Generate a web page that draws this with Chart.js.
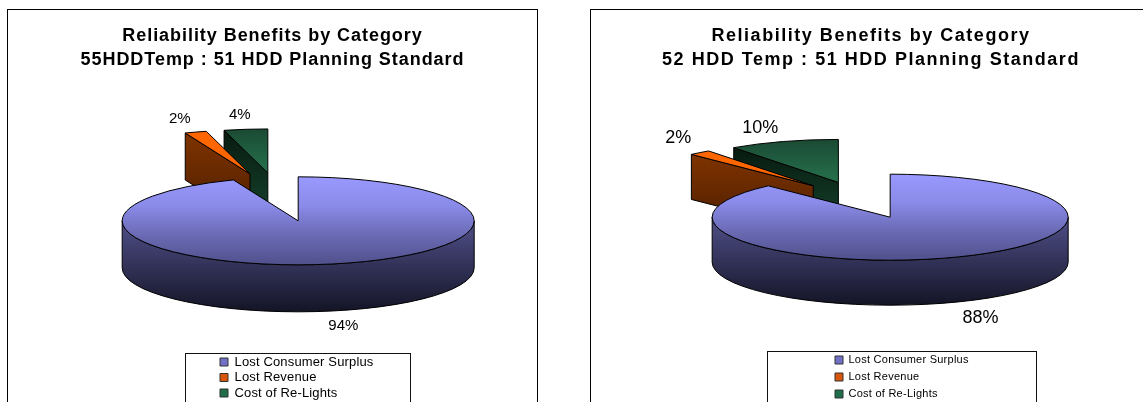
<!DOCTYPE html>
<html>
<head>
<meta charset="utf-8">
<script src="https://cdn.jsdelivr.net/npm/chart.js@4/dist/chart.umd.js"></script>
<style>
  html, body { margin: 0; padding: 0; background: #fff; overflow: hidden; }
  body { width: 1143px; height: 402px; position: relative; }
  .card { position: absolute; top: 9px; background: #fff; border: 1px solid #000; border-bottom: 0; }
  #card1 { left: 7px; width: 529px; height: 420px; }
  #card2 { left: 590px; width: 560px; height: 420px; }
  canvas { display: block; }
</style>
</head>
<body>
<div class="card" id="card1"><canvas id="chart1"></canvas></div>
<div class="card" id="card2"><canvas id="chart2"></canvas></div>
<script>
// data
const categories = ['Lost Consumer Surplus', 'Lost Revenue', 'Cost of Re-Lights'];
const title1 = ['Reliability Benefits by Category', '55HDDTemp : 51 HDD Planning Standard'];
const title2 = ['Reliability Benefits by Category', '52 HDD Temp : 51 HDD Planning Standard'];
const share1 = [94, 2, 4];
const share2 = [88, 2, 10];

// top and side gradients for each slice, light to dark
const topShades = [['#9999ff', '#8a8ae8', '#6a6ab4', '#50508c'], ['#ff6600', '#ff6600'], ['#1a4a33', '#339966']];
const sideShades = [['#50508a', '#141426'], ['#7f3300', '#4c1e00'], ['#1f4f37', '#123524']];
const faceShades = [['#50508a', '#141426'], ['#7f3300', '#4c1e00'], ['#071a10', '#17442d']];

function vertical(ctx, y0, y1, stops) {
  const g = ctx.createLinearGradient(0, y0, 0, y1);
  stops.forEach((c, i) => g.addColorStop(i / (stops.length - 1), c));
  return g;
}

// title and legend share a canvas but not the same letter spacing
function spaced(box, ctx, px) {
  const draw = box.draw;
  box.draw = function (area) {
    ctx.letterSpacing = px + 'px';
    draw.call(box, area);
    ctx.letterSpacing = '0px';
  };
}

// Chart.js has no 3D pie, so the arcs it computes get squashed and extruded here
const pie3d = {
  id: 'pie3d',
  afterInit(chart, args, opts) {
    spaced(chart.titleBlock, chart.ctx, opts.titleSpacing);
    spaced(chart.legend, chart.ctx, opts.legendSpacing);
  },
  afterLayout(chart, args, opts) {
    // title stays centred on the card, legend goes where the box is
    chart.titleBlock.left = 0;
    chart.titleBlock.right = chart.width;
    const lg = chart.legend;
    const pad = lg.options.labels.padding;
    lg.left = opts.legendX - pad;
    lg.right = lg.left + opts.box.w;
    lg.top = opts.legendY - pad;
    lg.bottom = lg.top + 200;
  },
  beforeDatasetsDraw(chart, args, opts) {
    const ctx = chart.ctx;
    const arcs = chart.getDatasetMeta(0).data;
    const values = chart.data.datasets[0].data;
    const k = opts.squash, depth = opts.depth;
    const points = arcs.map(a => {
      const mid = (a.startAngle + a.endAngle) / 2;
      const off = a.options.offset;
      return { x: a.x + Math.cos(mid) * off, y: a.y + Math.sin(mid) * off * k, mid };
    });
    ctx.save();
    ctx.lineWidth = 1;
    ctx.strokeStyle = '#000';
    ctx.lineJoin = 'round';
    // back slices first, the big one ends up in front
    for (let i = arcs.length - 1; i >= 0; i--) {
      const a = arcs[i], p = points[i];
      const r = a.outerRadius, ry = r * k;
      const a0 = a.startAngle, a1 = a.endAngle;

      // cut faces that look towards the viewer
      [[a0, Math.cos(a0) < -1e-6], [a1, Math.cos(a1) > 1e-6]].forEach(([ang, show]) => {
        if (!show) return;
        const ex = p.x + Math.cos(ang) * r, ey = p.y + Math.sin(ang) * ry;
        ctx.beginPath();
        ctx.moveTo(p.x, p.y);
        ctx.lineTo(ex, ey);
        ctx.lineTo(ex, ey + depth);
        ctx.lineTo(p.x, p.y + depth);
        ctx.closePath();
        ctx.fillStyle = vertical(ctx, Math.min(ey, p.y), Math.max(ey, p.y) + depth, faceShades[i]);
        ctx.fill();
        ctx.stroke();
      });

      // front rim, only the part of the arc with sin > 0
      for (const turn of [0, Math.PI * 2]) {
        const s = Math.max(a0, turn), e = Math.min(a1, turn + Math.PI);
        if (e <= s) continue;
        ctx.beginPath();
        ctx.ellipse(p.x, p.y, r, ry, 0, s, e);
        ctx.lineTo(p.x + Math.cos(e) * r, p.y + Math.sin(e) * ry + depth);
        ctx.ellipse(p.x, p.y + depth, r, ry, 0, e, s, true);
        ctx.closePath();
        ctx.fillStyle = vertical(ctx, p.y, p.y + ry + depth, sideShades[i]);
        ctx.fill();
        ctx.stroke();
      }

      // top surface
      ctx.beginPath();
      ctx.moveTo(p.x, p.y);
      ctx.ellipse(p.x, p.y, r, ry, 0, a0, a1);
      ctx.closePath();
      ctx.fillStyle = vertical(ctx, p.y - ry, p.y + ry, topShades[i]);
      ctx.fill();
      ctx.stroke();
    }

    // percent labels sit just outside the slice they belong to
    ctx.fillStyle = '#000';
    ctx.font = opts.labelSize + 'px "Liberation Sans"';
    ctx.textAlign = 'center';
    ctx.textBaseline = 'middle';
    arcs.forEach((a, i) => {
      const p = points[i];
      const below = Math.sin(p.mid) > 0 ? depth : 0;
      ctx.fillText(values[i] + '%',
        p.x + Math.cos(p.mid) * a.outerRadius * opts.labelAtX[i],
        p.y + Math.sin(p.mid) * a.outerRadius * k * opts.labelAtY[i] + below);
    });
    ctx.restore();
    return false;
  },
  afterDraw(chart, args, opts) {
    const ctx = chart.ctx, b = opts.box;
    ctx.save();
    ctx.strokeStyle = '#111';
    ctx.lineWidth = 1;
    ctx.strokeRect(b.x + 0.5, b.y + 0.5, b.w, b.h);
    ctx.restore();
  }
};

function pieChart(id, w, h, share, titleLines, look) {
  const canvas = document.getElementById(id);
  canvas.width = w;
  canvas.height = h;
  return new Chart(canvas, {
    type: 'pie',
    data: {
      labels: categories,
      datasets: [{
        data: share,
        radius: look.radius,
        offset: look.offset,
        backgroundColor: ['#7070c4', '#d8560a', '#1f6e4a'],
        borderColor: '#333',
        borderWidth: 1
      }]
    },
    plugins: [pie3d],
    options: {
      responsive: false,
      animation: false,
      layout: { padding: { left: look.padLeft, right: look.padRight, bottom: look.padBottom } },
      plugins: {
        pie3d: look,
        tooltip: { enabled: false },
        title: {
          display: true,
          text: titleLines,
          color: '#000',
          padding: { top: 14, bottom: 0 },
          font: { family: '"Liberation Sans"', size: 18, weight: 'bold', lineHeight: 24 / 18 }
        },
        legend: {
          position: 'chartArea',
          align: 'start',
          labels: {
            color: '#000',
            boxWidth: 8,
            boxHeight: 8,
            padding: look.legendPad,
            font: { family: '"Liberation Sans"', size: look.legendSize }
          }
        }
      }
    }
  });
}

pieChart('chart1', 529, 420, share1, title1, {
  radius: 176, offset: 97, squash: 0.25, depth: 47,
  padLeft: 15, padRight: 0, padBottom: 108,
  labelAtX: [1.37, 1.29, 1.27], labelAtY: [1.35, 1.31, 1.33], labelSize: 15,
  titleSpacing: 0.95, legendSpacing: 0.15,
  legendSize: 13, legendPad: 2.5,
  legendX: 212, legendY: 345.5,
  box: { x: 177, y: 343, w: 225, h: 100 }
});

pieChart('chart2', 560, 420, share2, title2, {
  radius: 178, offset: 76.5, squash: 0.2416, depth: 45,
  padLeft: 0, padRight: 18, padBottom: 102,
  labelAtX: [1.38, 1.19, 1.42], labelAtY: [1.4, 1.44, 1.33], labelSize: 18,
  titleSpacing: 1.53, legendSpacing: 0.25,
  legendSize: 11, legendPad: 6,
  legendX: 244, legendY: 344.5,
  box: { x: 176, y: 341, w: 269, h: 100 }
});
</script>
</body>
</html>
